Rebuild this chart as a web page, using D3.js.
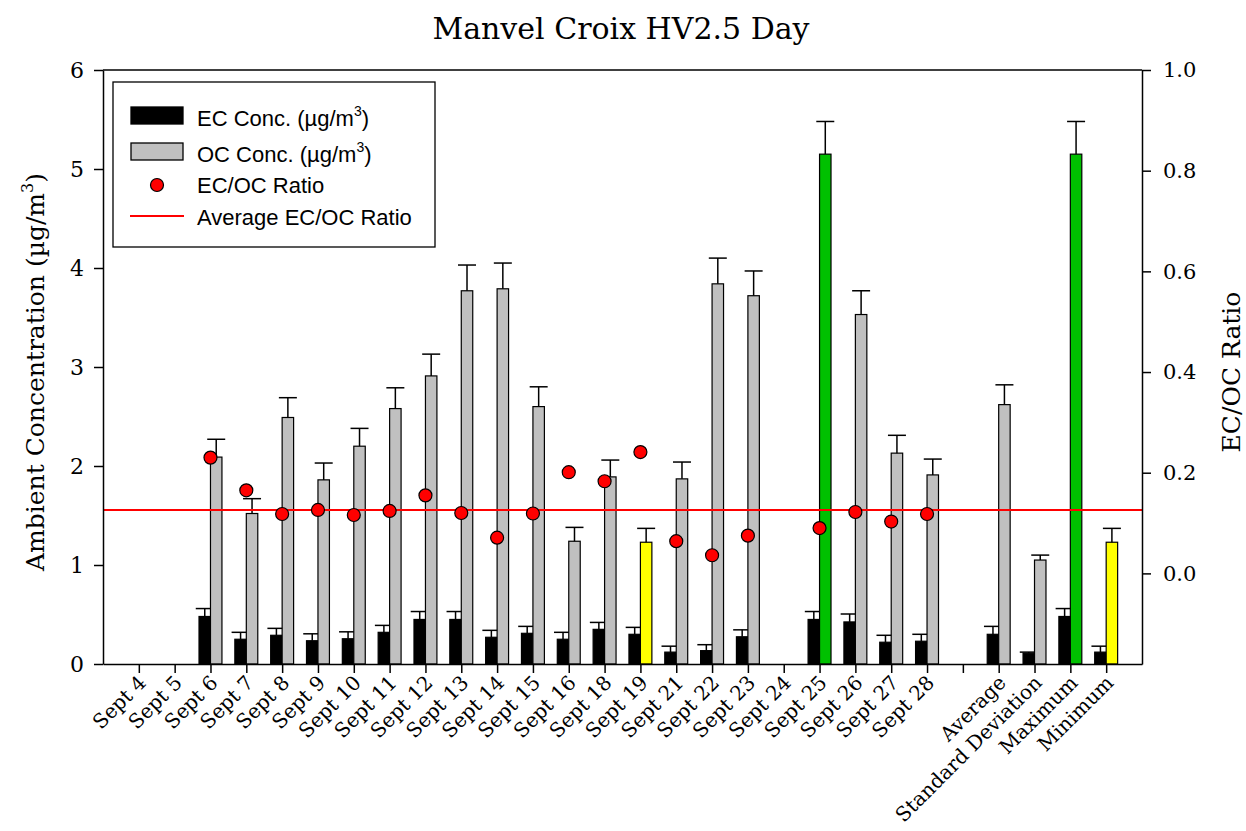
<!DOCTYPE html>
<html lang="en">
<head>
<meta charset="UTF-8">
<title>Manvel Croix HV2.5 Day</title>
<script src="https://d3js.org/d3.v7.min.js"></script>
<style>
  body { margin: 0; background: #fff; }
  .serif { font-family: "DejaVu Serif", serif; }
  .sans { font-family: "Liberation Sans", Arial, sans-serif; }
</style>
</head>
<body>
<div id="chart"></div>
<script>
// categories along the x axis ("" is the empty slot before the summary bars)
var labels = ["Sept 4", "Sept 5", "Sept 6", "Sept 7", "Sept 8", "Sept 9", "Sept 10", "Sept 11",
  "Sept 12", "Sept 13", "Sept 14", "Sept 15", "Sept 16", "Sept 18", "Sept 19", "Sept 21",
  "Sept 22", "Sept 23", "Sept 24", "Sept 25", "Sept 26", "Sept 27", "Sept 28", "",
  "Average", "Standard Deviation", "Maximum", "Minimum"];

// EC concentration and its error
var ec = [null, null, 0.48, 0.25, 0.29, 0.235, 0.255, 0.32, 0.45, 0.45, 0.27, 0.31, 0.25, 0.35,
  0.30, 0.12, 0.135, 0.275, null, 0.45, 0.425, 0.22, 0.23, null, 0.30, 0.11, 0.48, 0.12];
var ecErr = [null, null, 0.08, 0.07, 0.07, 0.07, 0.07, 0.07, 0.08, 0.08, 0.07, 0.07, 0.07, 0.07,
  0.07, 0.06, 0.06, 0.07, null, 0.08, 0.08, 0.07, 0.07, null, 0.08, 0.01, 0.08, 0.06];

// OC concentration and its error
var oc = [null, null, 2.09, 1.52, 2.49, 1.86, 2.20, 2.58, 2.91, 3.77, 3.79, 2.60, 1.24, 1.89,
  1.23, 1.87, 3.84, 3.72, null, 5.15, 3.53, 2.13, 1.91, null, 2.62, 1.05, 5.15, 1.23];
var ocErr = [null, null, 0.18, 0.15, 0.20, 0.17, 0.18, 0.21, 0.22, 0.26, 0.26, 0.20, 0.14, 0.17,
  0.14, 0.17, 0.26, 0.25, null, 0.33, 0.24, 0.18, 0.16, null, 0.20, 0.05, 0.33, 0.14];

// EC/OC ratio (right axis)
var ratio = [null, null, 0.230, 0.165, 0.118, 0.126, 0.116, 0.124, 0.155, 0.120, 0.071, 0.119,
  0.201, 0.183, 0.241, 0.064, 0.036, 0.075, null, 0.090, 0.122, 0.103, 0.118, null, null, null, null, null];
var avgRatio = 0.126;

// OC bars that mark the minimum / maximum
var minLabels = ["Sept 19", "Minimum"];
var maxLabels = ["Sept 25", "Maximum"];

var leftTicks = [0, 1, 2, 3, 4, 5, 6];
var rightTicks = [0, 0.2, 0.4, 0.6, 0.8, 1.0];

var W = 1246, H = 831;
var plot = {left: 103, right: 1142, top: 70, bottom: 664};

var svg = d3.select("#chart").append("svg")
  .attr("width", W).attr("height", H);

var x = d3.scaleLinear().domain([0, labels.length + 1]).range([plot.left, plot.right]);
var y = d3.scaleLinear().domain([0, 6]).range([plot.bottom, plot.top]);
var y2 = d3.scaleLinear().domain([-0.18, 1.0]).range([plot.bottom, plot.top]);

var step = x(1) - x(0);
var bw = step * 0.32;
var capW = 18;

var rows = labels.map(function(l, i) {
  return {label: l, pos: i + 1, ec: ec[i], ecErr: ecErr[i], oc: oc[i], ocErr: ocErr[i], ratio: ratio[i]};
});

function ocFill(d) {
  if (minLabels.indexOf(d.label) >= 0) return "#ffff00";
  if (maxLabels.indexOf(d.label) >= 0) return "#00c000";
  return "#c0c0c0";
}

// title
svg.append("text").attr("class", "serif")
  .attr("x", 621).attr("y", 39)
  .attr("text-anchor", "middle")
  .style("font-size", "30px")
  .text("Manvel Croix HV2.5 Day");

// EC bars + errors
var ecRows = rows.filter(function(d) { return d.ec != null; });
svg.append("g").selectAll("rect").data(ecRows).enter().append("rect")
  .attr("x", function(d) { return x(d.pos) - bw; })
  .attr("y", function(d) { return y(d.ec); })
  .attr("width", bw)
  .attr("height", function(d) { return y(0) - y(d.ec); })
  .attr("fill", "#000").attr("stroke", "#000").attr("stroke-width", 1.2);

function errBars(data, val, err, cx) {
  var g = svg.append("g").attr("stroke", "#000").attr("stroke-width", 1.5);
  g.selectAll("line.v").data(data).enter().append("line")
    .attr("x1", cx).attr("x2", cx)
    .attr("y1", function(d) { return y(d[val]); })
    .attr("y2", function(d) { return y(d[val] + d[err]); });
  g.selectAll("line.c").data(data).enter().append("line")
    .attr("x1", function(d) { return cx(d) - capW / 2; })
    .attr("x2", function(d) { return cx(d) + capW / 2; })
    .attr("y1", function(d) { return y(d[val] + d[err]); })
    .attr("y2", function(d) { return y(d[val] + d[err]); });
}
errBars(ecRows, "ec", "ecErr", function(d) { return x(d.pos) - bw / 2; });

// OC bars + errors
var ocRows = rows.filter(function(d) { return d.oc != null; });
svg.append("g").selectAll("rect").data(ocRows).enter().append("rect")
  .attr("x", function(d) { return x(d.pos); })
  .attr("y", function(d) { return y(d.oc); })
  .attr("width", bw)
  .attr("height", function(d) { return y(0) - y(d.oc); })
  .attr("fill", ocFill).attr("stroke", "#000").attr("stroke-width", 1.2);
errBars(ocRows, "oc", "ocErr", function(d) { return x(d.pos) + bw / 2; });

// average ratio line
svg.append("line")
  .attr("x1", plot.left).attr("x2", plot.right)
  .attr("y1", y2(avgRatio)).attr("y2", y2(avgRatio))
  .attr("stroke", "#ff0000").attr("stroke-width", 2);

// ratio points
svg.append("g").selectAll("circle")
  .data(rows.filter(function(d) { return d.ratio != null; }))
  .enter().append("circle")
  .attr("cx", function(d) { return x(d.pos); })
  .attr("cy", function(d) { return y2(d.ratio); })
  .attr("r", 6.5)
  .attr("fill", "#ff0000").attr("stroke", "#000").attr("stroke-width", 1.2);

// axes
var xAxis = svg.append("g")
  .attr("transform", "translate(0," + plot.bottom + ")")
  .call(d3.axisBottom(x)
    .tickValues(d3.range(1, labels.length + 1))
    .tickFormat(function(d) { return labels[d - 1]; })
    .tickSize(9).tickSizeOuter(0));
xAxis.selectAll("text")
  .attr("class", "serif")
  .style("font-size", "20px")
  .attr("text-anchor", "end")
  .attr("dy", null)
  .attr("y", 0)
  .attr("transform", "translate(8,20) rotate(-45)");

var yAxis = svg.append("g")
  .attr("transform", "translate(" + plot.left + ",0)")
  .call(d3.axisLeft(y).tickValues(leftTicks).tickFormat(d3.format("d")).tickSize(9).tickSizeOuter(0));
yAxis.selectAll("text").attr("class", "serif").style("font-size", "22px").attr("x", -19);

var y2Axis = svg.append("g")
  .attr("transform", "translate(" + plot.right + ",0)")
  .call(d3.axisRight(y2).tickValues(rightTicks).tickFormat(d3.format(".1f")).tickSize(9).tickSizeOuter(0));
y2Axis.selectAll("text").attr("class", "serif").style("font-size", "21px").attr("x", 21);

svg.selectAll(".domain").attr("stroke-width", 1.5);
svg.selectAll(".tick line").attr("stroke-width", 1.5);

// top frame
svg.append("line")
  .attr("x1", plot.left).attr("x2", plot.right)
  .attr("y1", plot.top).attr("y2", plot.top)
  .attr("stroke", "#000").attr("stroke-width", 1.5);

// axis titles
var lt = svg.append("text").attr("class", "serif")
  .attr("transform", "translate(44,372) rotate(-90)")
  .attr("text-anchor", "middle")
  .style("font-size", "25px");
lt.append("tspan").text("Ambient Concentration (\u00b5g/m");
lt.append("tspan").attr("dy", -11).style("font-size", "16px").text("3");
lt.append("tspan").attr("dy", 11).text(")");

svg.append("text").attr("class", "serif")
  .attr("transform", "translate(1240,372) rotate(-90)")
  .attr("text-anchor", "middle")
  .style("font-size", "25px")
  .text("EC/OC Ratio");

// legend
var lg = svg.append("g").attr("class", "sans");
lg.append("rect")
  .attr("x", 113).attr("y", 82).attr("width", 322).attr("height", 165)
  .attr("fill", "#fff").attr("stroke", "#000").attr("stroke-width", 1.3);

var legendItems = [
  {type: "bar", fill: "#000", text: "EC Conc. (\u00b5g/m", sup: true, y: 126},
  {type: "bar", fill: "#c0c0c0", text: "OC Conc. (\u00b5g/m", sup: true, y: 162},
  {type: "dot", text: "EC/OC Ratio", y: 193},
  {type: "line", text: "Average EC/OC Ratio", y: 225}
];
legendItems.forEach(function(it) {
  if (it.type === "bar") {
    lg.append("rect").attr("x", 131).attr("y", it.y - 19).attr("width", 52).attr("height", 17)
      .attr("fill", it.fill).attr("stroke", "#000").attr("stroke-width", 1.3);
  } else if (it.type === "dot") {
    lg.append("circle").attr("cx", 157).attr("cy", it.y - 8).attr("r", 6.5)
      .attr("fill", "#ff0000").attr("stroke", "#000").attr("stroke-width", 1.2);
  } else {
    lg.append("line").attr("x1", 130).attr("x2", 184).attr("y1", it.y - 9).attr("y2", it.y - 9)
      .attr("stroke", "#ff0000").attr("stroke-width", 2);
  }
  var t = lg.append("text").attr("x", 197).attr("y", it.y).style("font-size", "22px");
  t.append("tspan").text(it.text);
  if (it.sup) {
    t.append("tspan").attr("dy", -10).style("font-size", "14px").text("3");
    t.append("tspan").attr("dy", 10).text(")");
  }
});
</script>
</body>
</html>
